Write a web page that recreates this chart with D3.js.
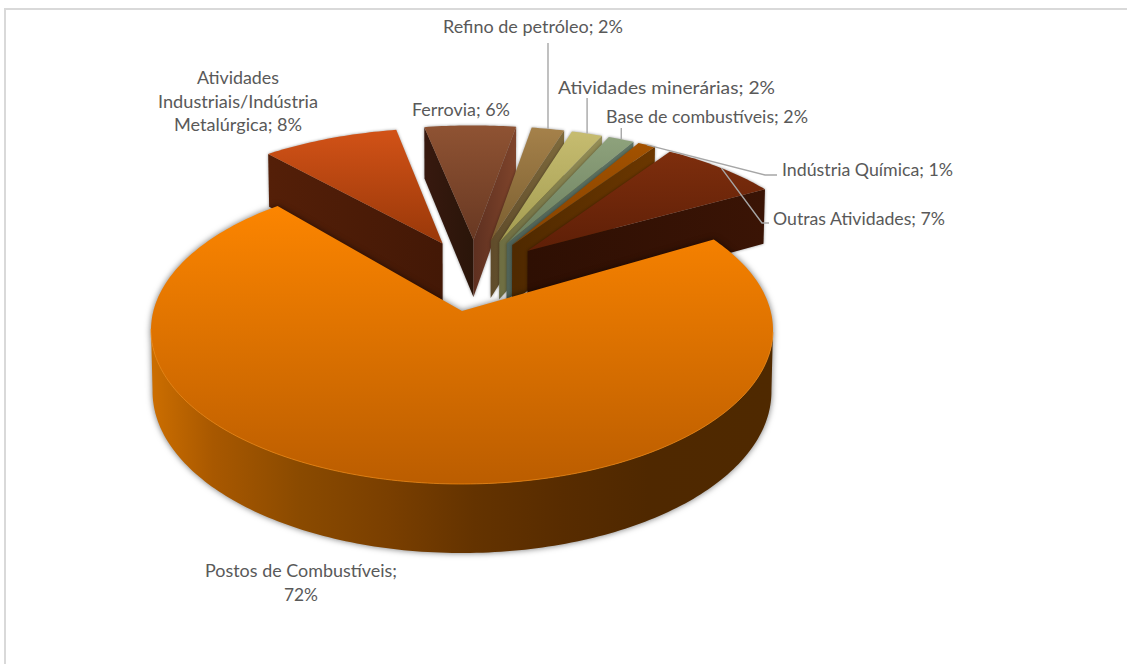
<!DOCTYPE html>
<html><head><meta charset="utf-8">
<script src="https://cdn.jsdelivr.net/npm/d3@7"></script>
<style>html,body{margin:0;padding:0;background:#fff}svg{display:block}text{font-family:Lato,sans-serif;fill:#595959;font-size:18px}</style>
</head><body><svg id="c" width="1127" height="664"></svg>
<script>
const categories=["Postos de Combustíveis","Atividades Industriais/Indústria Metalúrgica","Ferrovia","Refino de petróleo","Atividades minerárias","Base de combustíveis","Indústria Química","Outras Atividades"];
const values=[72,8.4,5.6,2,1.9,1.6,1.1,7.4];
const topColors=[["#FC8500","#BB5D00"],["#D25217","#993809"],["#8F5333","#683822"],["#A5814A","#7A5E30"],["#C6BC70","#A39C50"],["#8EA27C","#6B7E5E"],["#A35200","#854200"],["#7E2E0D","#5E1F07"]];
const wallColors=[null,["#541F08","#431806"],["#37190F","#2A1509"],["#5F4B2A","#7E6A3C"],["#6E6E42","#948D55"],["#4F6257","#5F7462"],["#4F2900","#6B3700"],["#2E0F03","#3A1405"]];
const rightWallColors=[null,null,["#5E3020","#7F442B"]];
const mainWallStops=[[0,"#CC6E00"],[.1,"#A85800"],[.24,"#8A4A00"],[.38,"#7A3F00"],[.52,"#643300"],[.66,"#582C00"],[.8,"#4F2800"],[1,"#4F2900"]];
// label layout: lines with measured widths, centre x, y, leader type
const labelLayout=[
 {lines:["Postos de Combustíveis;","72%"],widths:[192,34],x:301,y:570},
 {lines:["Atividades","Industriais/Indústria","Metalúrgica; 8%"],widths:[82,160,128],x:238,y:77},
 {lines:["Ferrovia; 6%"],widths:[98],x:461,y:109},
 {lines:["Refino de petróleo; 2%"],widths:[180],x:533,y:26,leader:"v",to:43},
 {lines:["Atividades minerárias; 2%"],widths:[217],x:666.5,y:87,leader:"v",to:98},
 {lines:["Base de combustíveis; 2%"],widths:[202],x:707,y:116,leader:"v",to:128},
 {lines:["Indústria Química; 1%"],widths:[171],x:867.5,y:169,leader:"e",elbow:[765,175],end:[777,175]},
 {lines:["Outras Atividades; 7%"],widths:[172],x:859,y:218,leader:"e",elbow:[762,223],end:[769,223]}
];
const CX=462,CY=330,RX=311,RY=154,APEX=-19,K=0.1234,DEPTH=60.5,EXPL=0.25,EXPL_RY=0.945;
const A=RX*Math.sqrt(1-K*K);
const proj=(x,y)=>{const w=1+K*y;return{sx:A*x/w,sy:(APEX-RY*y)/w,w}};
const top3=(x,y)=>{const p=proj(x,y);return[CX+p.sx,CY+p.sy]};
const bot3=(x,y)=>{const p=proj(x,y);return[CX+p.sx*0.995,CY+p.sy+DEPTH/p.w]};
const pie=d3.pie().sort(null).startAngle(60*Math.PI/180).endAngle(420*Math.PI/180);
const arcs=pie(values);
const bis=a=>(a.startAngle+a.endAngle)/2;
const mainB=bis(arcs[0]);
const line=d3.line();
const svg=d3.select("#c");
const defs=svg.append("defs");
function grad(id,stops,horizontal){
  const g=defs.append("linearGradient").attr("id",id).attr("x1",0).attr("y1",0).attr("x2",horizontal?1:0).attr("y2",horizontal?0:1);
  stops.forEach(s=>g.append("stop").attr("offset",s[0]).attr("stop-color",s[1]));
  return `url(#${id})`;
}
svg.append("path").attr("d","M5,664V9H1127").attr("fill","none").attr("stroke","#D9D9D9").attr("stroke-width",2);

const slices=arcs.map((a,i)=>{
  const b=bis(a);
  const ox=i===0?0:EXPL*(Math.sin(b)-Math.sin(mainB));
  const oy=i===0?0:EXPL*(Math.cos(b)-Math.cos(mainB));
  const ry=i===0?1:EXPL_RY;
  const n=Math.max(2,Math.ceil((a.endAngle-a.startAngle)/(Math.PI/180)));
  const ang=d3.range(n+1).map(k=>a.startAngle+(a.endAngle-a.startAngle)*k/n);
  const outer=ang.map(t=>[ox+Math.sin(t),oy+ry*Math.cos(t)]);
  return{i,a,ox,oy,ry,outer,ang};
});
// draw order: back slices first, main slice last
const order=[1,2,3,4,5,6,7,0];
const quad=(pts)=>{
  const tp=pts.map(p=>top3(p[0],p[1]));
  const bt=pts.map(p=>bot3(p[0],p[1])).reverse();
  return line(tp.concat(bt))+"Z";
};
order.forEach(idx=>{
  const s=slices[idx];
  const g=svg.append("g").attr("class","slice").style("filter",idx===0?"drop-shadow(0 0 3px rgba(0,0,0,.55))":"drop-shadow(0 0 1.5px rgba(0,0,0,.4))");
  const apex=[s.ox,s.oy];
  const first=s.outer[0], last=s.outer[s.outer.length-1];
  const goesLeft=(p,q)=>top3(q[0],q[1])[0]<top3(p[0],p[1])[0];
  // straight cut faces
  if(goesLeft(apex,first)&&idx!==0){
    const c=wallColors[idx];
    g.append("path").attr("d",quad([apex,first])).attr("fill",grad("wa"+idx,[[0,c[0]],[1,c[1]]],true));
  }
  if(goesLeft(last,apex)&&idx!==0){
    const c=rightWallColors[idx]||wallColors[idx];
    g.append("path").attr("d",quad([last,apex])).attr("fill",grad("wb"+idx,[[0,c[0]],[1,c[1]]],true));
  }
  // outer wall: runs of arc segments facing the viewer
  let run=[];
  const flush=()=>{
    if(run.length>1){
      const fill=idx===0?grad("wm",mainWallStops,true):(wallColors[idx][1]);
      g.append("path").attr("d",quad(run)).attr("fill",fill);
    }
    run=[];
  };
  for(let k=0;k<s.outer.length-1;k++){
    if(goesLeft(s.outer[k],s.outer[k+1])){ if(!run.length)run.push(s.outer[k]); run.push(s.outer[k+1]); }
    else flush();
  }
  flush();
  // top face
  const poly=[apex,...s.outer].map(p=>top3(p[0],p[1]));
  g.append("path").attr("d",line(poly)+"Z").attr("fill",grad("t"+idx,[[0,topColors[idx][0]],[1,topColors[idx][1]]],false));
  if(idx===0){
    const front=s.outer.filter((p,k)=>k>0&&goesLeft(s.outer[k-1],p));
    g.append("path").attr("d",line(front.map(p=>top3(p[0],p[1])))).attr("fill","none").attr("stroke","#F58A10").attr("stroke-width",1).attr("stroke-opacity",.7);
  }
});
// leaders
labelLayout.forEach((l,i)=>{
  if(!l.leader)return;
  const s=slices[i];
  const b=bis(s.a);
  const anchor=top3(s.ox+Math.sin(b),s.oy+s.ry*Math.cos(b));
  const pts=l.leader==="v"?[anchor,[anchor[0],l.to]]:[anchor,l.elbow,l.end];
  svg.append("path").attr("d",line(pts)).attr("fill","none").attr("stroke","#A6A6A6").attr("stroke-width",1.4);
});
// labels
labelLayout.forEach(l=>{
  l.lines.forEach((t,j)=>{
    svg.append("text").attr("x",l.x).attr("y",l.y+j*23.5).attr("text-anchor","middle").attr("dominant-baseline","central")
      .attr("textLength",l.widths[j]).attr("lengthAdjust","spacingAndGlyphs").text(t);
  });
});
</script></body></html>
